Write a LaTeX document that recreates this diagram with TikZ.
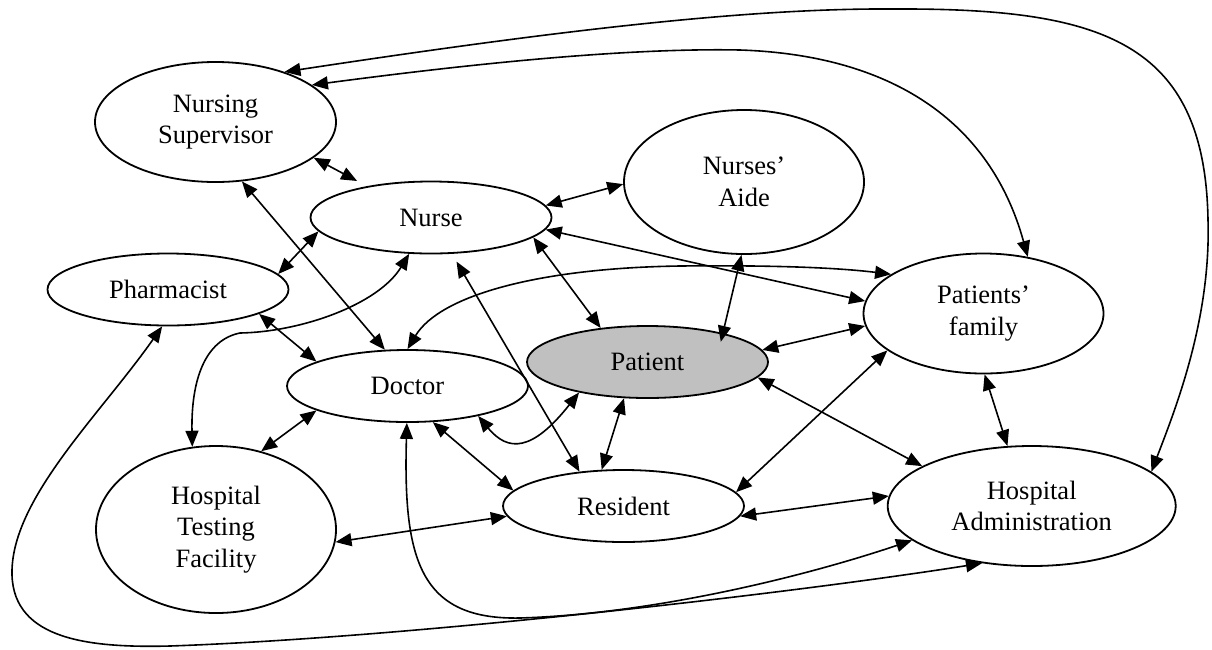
\documentclass[tikz,border=0pt]{standalone}
\usepackage{fontspec}
\setmainfont{Liberation Serif}
\usetikzlibrary{shapes.geometric,arrows.meta}
\definecolor{patientgray}{HTML}{C0C0C0}
\begin{document}
\begin{tikzpicture}[x=1pt,y=-1pt,
  role/.style={ellipse,draw,line width=1.8pt,inner sep=0pt,align=center,
    font=\fontsize{26.5}{31.5}\selectfont},
  small/.style={role,minimum width=241pt,minimum height=72pt},
  link/.style={line width=1.6pt,
    {Triangle[length=16pt,width=13pt]}-{Triangle[length=16pt,width=13pt]}}]
\useasboundingbox (0,0) rectangle (1212,649);

% roles
\node[role,minimum width=241pt,minimum height=120pt] (ns) at (215.5,122) {Nursing\\Supervisor};
\node[small] (nurse) at (431,217.5) {Nurse};
\node[role,minimum width=240pt,minimum height=144pt] (na) at (744,182) {Nurses’\\Aide};
\node[small] (pharm) at (168,289.5) {Pharmacist};
\node[role,minimum width=240pt,minimum height=120pt] (pf) at (983.5,313.5) {Patients’\\family};
\node[small] (doc) at (407.5,386) {Doctor};
\node[small,fill=patientgray] (pat) at (647.5,362) {Patient};
\node[role,minimum width=240pt,minimum height=167pt] (htf) at (216,529.5) {Hospital\\Testing\\Facility};
\node[small] (res) at (623.5,506) {Resident};
\node[role,minimum width=288pt,minimum height=120pt] (ha) at (1031.7,506) {Hospital\\Administration};

% long curved links
\draw[link] (ns.36) .. controls (560,30) and (750,8) .. (893,9)
  .. controls (1100,8) and (1205,40) .. (1208,220)
  .. controls (1211,320) and (1175,410) .. (ha.16);
\draw[link] (ns.21) .. controls (500,60) and (640,48) .. (740,50)
  .. controls (890,55) and (990,120) .. (pf.52);
\draw[link] (nurse.-121) .. controls (378,305) and (300,332) .. (240,333)
  .. controls (205,340) and (191,380) .. (htf.106);
\draw[link] (doc.90) .. controls (440,295) and (540,268) .. (680,266)
  .. controls (780,265) and (840,268) .. (pf.157);
\draw[link] (doc.-23) .. controls (508,452) and (532,452) .. (pat.204);
\draw[link] (doc.-91) .. controls (403,560) and (420,620) .. (520,618)
  .. controls (650,614) and (800,578) .. (ha.196);
\draw[link] (pharm.-99) .. controls (100,415) and (10,500) .. (12,575)
  .. controls (14,640) and (90,648) .. (170,646)
  .. controls (400,638) and (780,595) .. (ha.229);

% straight links
\draw[link,shorten >=11pt] (ns.-20) -- (nurse.154);
\draw[link] (ns.-66) -- (doc.122);
\draw[link] (nurse.187) -- (pharm.8);
\draw[link] (nurse.6) -- (na.181);
\draw[link] (nurse.-6) -- (pf.174);
\draw[link] (nurse.-11) -- (pat.144);
\draw[link,shorten <=9pt] (nurse.-60) -- (res.142);
\draw[link] (pharm.-15) -- (doc.165);
\draw[link] (doc.195) -- (htf.60);
\draw[link] (doc.-55) -- (res.172);
\draw[link] (htf.-6) -- (res.185);
\draw[link] (pat.-123) -- (res.121);
\draw[link,shorten >=-9pt] (na.-92) -- (pat.21);
\draw[link] (pat.6) -- (pf.186);
\draw[link] (pat.-8) -- (ha.160);
\draw[link] (res.7) -- (pf.201);
\draw[link] (res.-5) -- (ha.176);
\draw[link] (pf.-89) -- (ha.112);
\end{tikzpicture}
\end{document}
